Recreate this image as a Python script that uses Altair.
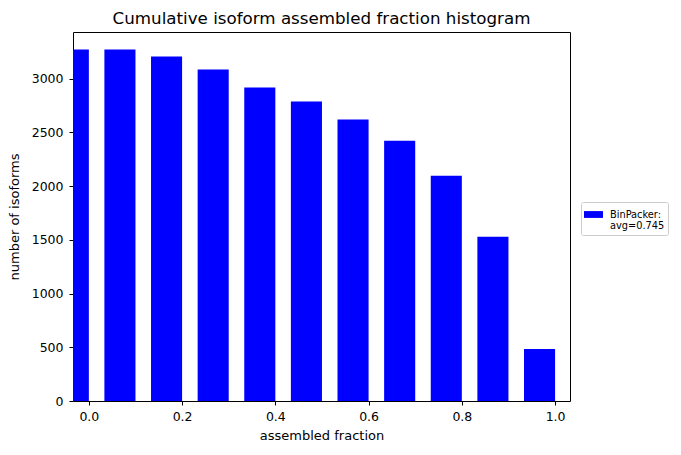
import altair as alt
import pandas as pd

# data
fractions = [0.0, 0.1, 0.2, 0.3, 0.4, 0.5, 0.6, 0.7, 0.8, 0.9, 1.0]
counts = [3270, 3270, 3205, 3084, 2916, 2786, 2618, 2422, 2096, 1528, 484]
series_label = "BinPacker:\navg=0.745"
x_ticks = [0.0, 0.2, 0.4, 0.6, 0.8, 1.0]
y_ticks = [0, 500, 1000, 1500, 2000, 2500, 3000]

df = pd.DataFrame({"fraction": fractions, "count": counts, "series": [series_label] * len(fractions)})

FONT = "DejaVu Sans"
bar_width = 1 / 15

chart = (
    alt.Chart(df)
    .transform_calculate(start=f"datum.fraction - {bar_width}")
    .mark_bar(clip=True)
    .encode(
        x=alt.X(
            "start:Q",
            scale=alt.Scale(domain=[-0.034, 1.032], nice=False, zero=False),
            axis=alt.Axis(values=x_ticks, format=".1f", title="assembled fraction"),
        ),
        x2="fraction:Q",
        y=alt.Y(
            "count:Q",
            scale=alt.Scale(domain=[0, 3433], nice=False, padding=0),
            axis=alt.Axis(values=y_ticks, format="d", title="number of isoforms"),
        ),
        y2=alt.datum(0),
        color=alt.Color(
            "series:N",
            scale=alt.Scale(range=["#0000ff"]),
            legend=alt.Legend(
                title=None,
                orient="none",
                legendX=508,
                legendY=170,
                labelExpr="split(datum.label, '\\n')",
                symbolType="M-1,-0.36L1,-0.36L1,0.36L-1,0.36Z",
                symbolSize=361,
                symbolStrokeWidth=0,
                labelFontSize=9.8,
                labelFont=FONT,
                labelColor="black",
                labelLimit=200,
                padding=3,
                strokeColor="#cccccc",
                fillColor="white",
                cornerRadius=2,
                labelOffset=7,
            ),
        ),
    )
    .properties(
        width=497,
        height=369,
        title=alt.TitleParams(
            "Cumulative isoform assembled fraction histogram",
            font=FONT,
            fontSize=16.7,
            fontWeight="normal",
            color="black",
            anchor="middle",
            offset=4,
        ),
        autosize=alt.AutoSizeParams(type="none"),
        padding={"left": 65, "top": 24, "right": 100, "bottom": 50},
    )
    .configure_view(stroke="black", strokeWidth=1)
    .configure_axis(
        domain=False,
        grid=False,
        tickColor="black",
        tickSize=4,
        labelFont=FONT,
        labelFontSize=12.5,
        labelColor="black",
        titleFont=FONT,
        titleFontSize=13,
        titleFontWeight="normal",
        titleColor="black",
    )
    .configure_axisX(labelPadding=5, titlePadding=7)
    .configure_axisY(labelPadding=6, titlePadding=10)
)

chart.save("out.html", embed_options={"renderer": "svg", "actions": False})
